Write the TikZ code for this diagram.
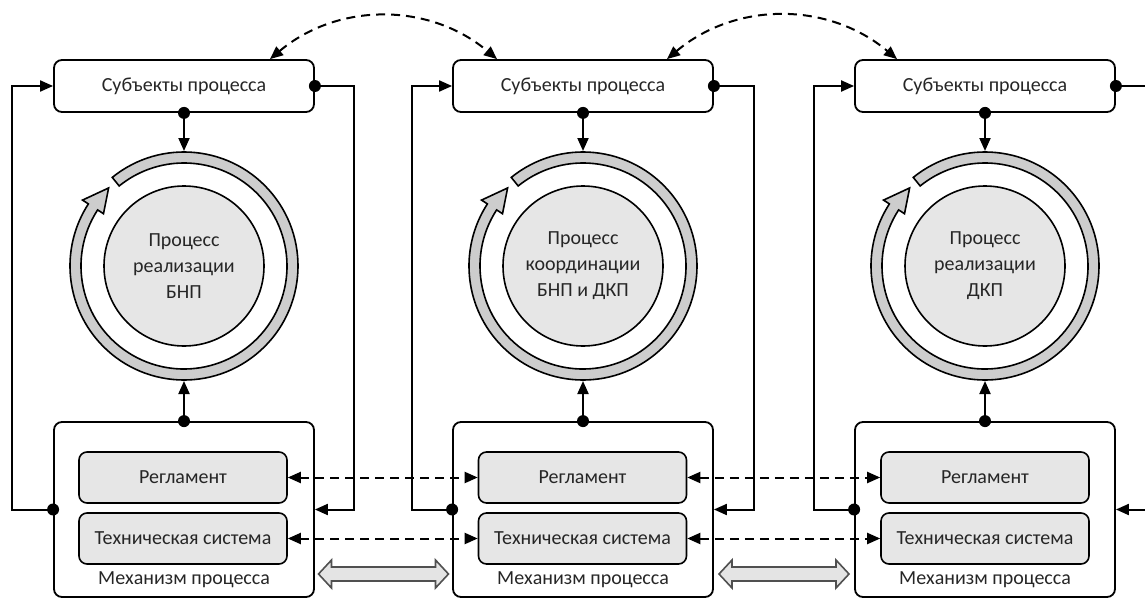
\documentclass[tikz,border=0pt]{standalone}
\usepackage{fontspec}
\setmainfont{Carlito}
\usetikzlibrary{calc,arrows.meta}

\definecolor{darktext}{HTML}{262626}
\definecolor{lightfill}{HTML}{E6E6E6}
\definecolor{ringfill}{HTML}{CDCDCD}
\definecolor{arrowfill}{HTML}{E4E4E4}
\definecolor{arrowline}{HTML}{505050}

\tikzset{
    >={Triangle[length=13pt,width=11pt]},
    wire/.style={line width=2pt, black},
    link/.style={line width=2pt, black, dash pattern=on 9pt off 6pt},
    subj/.style={draw, line width=1.8pt, rounded corners=8pt,
        minimum width=260pt, minimum height=52pt,
        font=\fontsize{20}{26}\selectfont, text=darktext},
    mech/.style={draw, line width=1.8pt, rounded corners=8pt,
        minimum width=260pt, minimum height=175pt},
    part/.style={draw, line width=1.6pt, rounded corners=8pt, fill=lightfill,
        minimum width=208pt, minimum height=51pt,
        font=\fontsize{20}{26}\selectfont, text=darktext},
    mechlabel/.style={font=\fontsize{20}{26}\selectfont, text=darktext},
    proc/.style={circle, draw, line width=1.6pt, fill=lightfill,
        minimum size=160pt, inner sep=0pt, align=center,
        font=\fontsize{20}{26}\selectfont, text=darktext},
    cyclering/.pic={
        \draw[line width=1.6pt, fill=ringfill]
            (129:114) arc[start angle=129, end angle=-213, radius=114] --
            (147:121) --
            (134:108.5) --
            (147:96) --
            (147:103) arc[start angle=-213, end angle=129, radius=103] --
            cycle;
    },
    hollowarrow/.pic={
        \draw[line width=1.6pt, draw=arrowline, fill=arrowfill]
            (-65,0) -- ++(13,14) -- ++(0,-7) -- ++(104,0) -- ++(0,7) --
            ++(13,-14) -- ++(-13,-14) -- ++(0,7) -- ++(-104,0) --
            ++(0,-7) -- cycle;
    }
}

\begin{document}
\begin{tikzpicture}[x=1pt, y=1pt]

    \useasboundingbox (0,0) rectangle (1145,-599);
    \clip (0,0) rectangle (1145,-599);

    % column 1
    \node[subj] (s1) at (184,-86) {Субъекты процесса};
    \node[proc] (p1) at (184,-266) {Процесс\\реализации\\БНП};
    \pic at (p1) {cyclering};
    \node[mech] (m1) at (184,-509.5) {};
    \node[part] (r1) at (183,-477.5) {Регламент};
    \node[part] (t1) at (183,-538.5) {Техническая система};
    \node[mechlabel] (l1) at (184,-580) {Механизм процесса};

    % column 2
    \node[subj] (s2) at (583,-86) {Субъекты процесса};
    \node[proc] (p2) at (583,-266) {Процесс\\координации\\БНП и ДКП};
    \pic at (p2) {cyclering};
    \node[mech] (m2) at (583,-509.5) {};
    \node[part] (r2) at (582.5,-477.5) {Регламент};
    \node[part] (t2) at (582.5,-538.5) {Техническая система};
    \node[mechlabel] (l2) at (583,-580) {Механизм процесса};

    % column 3
    \node[subj] (s3) at (985,-86) {Субъекты процесса};
    \node[proc] (p3) at (985,-266) {Процесс\\реализации\\ДКП};
    \pic at (p3) {cyclering};
    \node[mech] (m3) at (985,-509.5) {};
    \node[part] (r3) at (985,-477.5) {Регламент};
    \node[part] (t3) at (985,-538.5) {Техническая система};
    \node[mechlabel] (l3) at (985,-580) {Механизм процесса};

    % loops
    \draw[wire, ->] (s1.south) -- ($(p1)+(0,115)$);
    \draw[wire, ->] (m1.north) -- ($(p1)+(0,-115)$);
    \draw[wire, ->] (m1.west) -- ++(-41,0) |- (s1.west);
    \draw[wire, ->] (s1.east) -- ++(39,0) |- (m1.east);

    \draw[wire, ->] (s2.south) -- ($(p2)+(0,115)$);
    \draw[wire, ->] (m2.north) -- ($(p2)+(0,-115)$);
    \draw[wire, ->] (m2.west) -- ++(-40,0) |- (s2.west);
    \draw[wire, ->] (s2.east) -- ++(40,0) |- (m2.east);

    \draw[wire, ->] (s3.south) -- ($(p3)+(0,115)$);
    \draw[wire, ->] (m3.north) -- ($(p3)+(0,-115)$);
    \draw[wire, ->] (m3.west) -- ++(-40,0) |- (s3.west);
    \draw[wire, ->] (s3.east) -- ++(40,0) |- (m3.east);

    % dots
    \foreach \i in {1,2,3} {
        \fill (s\i.south) circle (6);
        \fill (s\i.east) circle (6);
        \fill (m\i.north) circle (6);
        \fill (m\i.west) circle (6);
    }

    % links between subjects
    \draw[link, <->]
        ($(s1.north)+(86,0)$) to[bend left=40]
        ($(s2.north)+(-86,0)$);
    \draw[link, <->]
        ($(s2.north)+(84,0)$) to[bend left=40]
        ($(s3.north)+(-88,0)$);

    % links between mechanisms
    \draw[link, <->] (r1.east) -- (r2.west);
    \draw[link, <->] (t1.east) -- (t2.west);
    \draw[link, <->] (r2.east) -- (r3.west);
    \draw[link, <->] (t2.east) -- (t3.west);

    \pic at ($(m1.east)!0.5!(m2.west)+(0,-64.5)$) {hollowarrow};
    \pic at ($(m2.east)!0.5!(m3.west)+(0,-64.5)$) {hollowarrow};

\end{tikzpicture}
\end{document}
